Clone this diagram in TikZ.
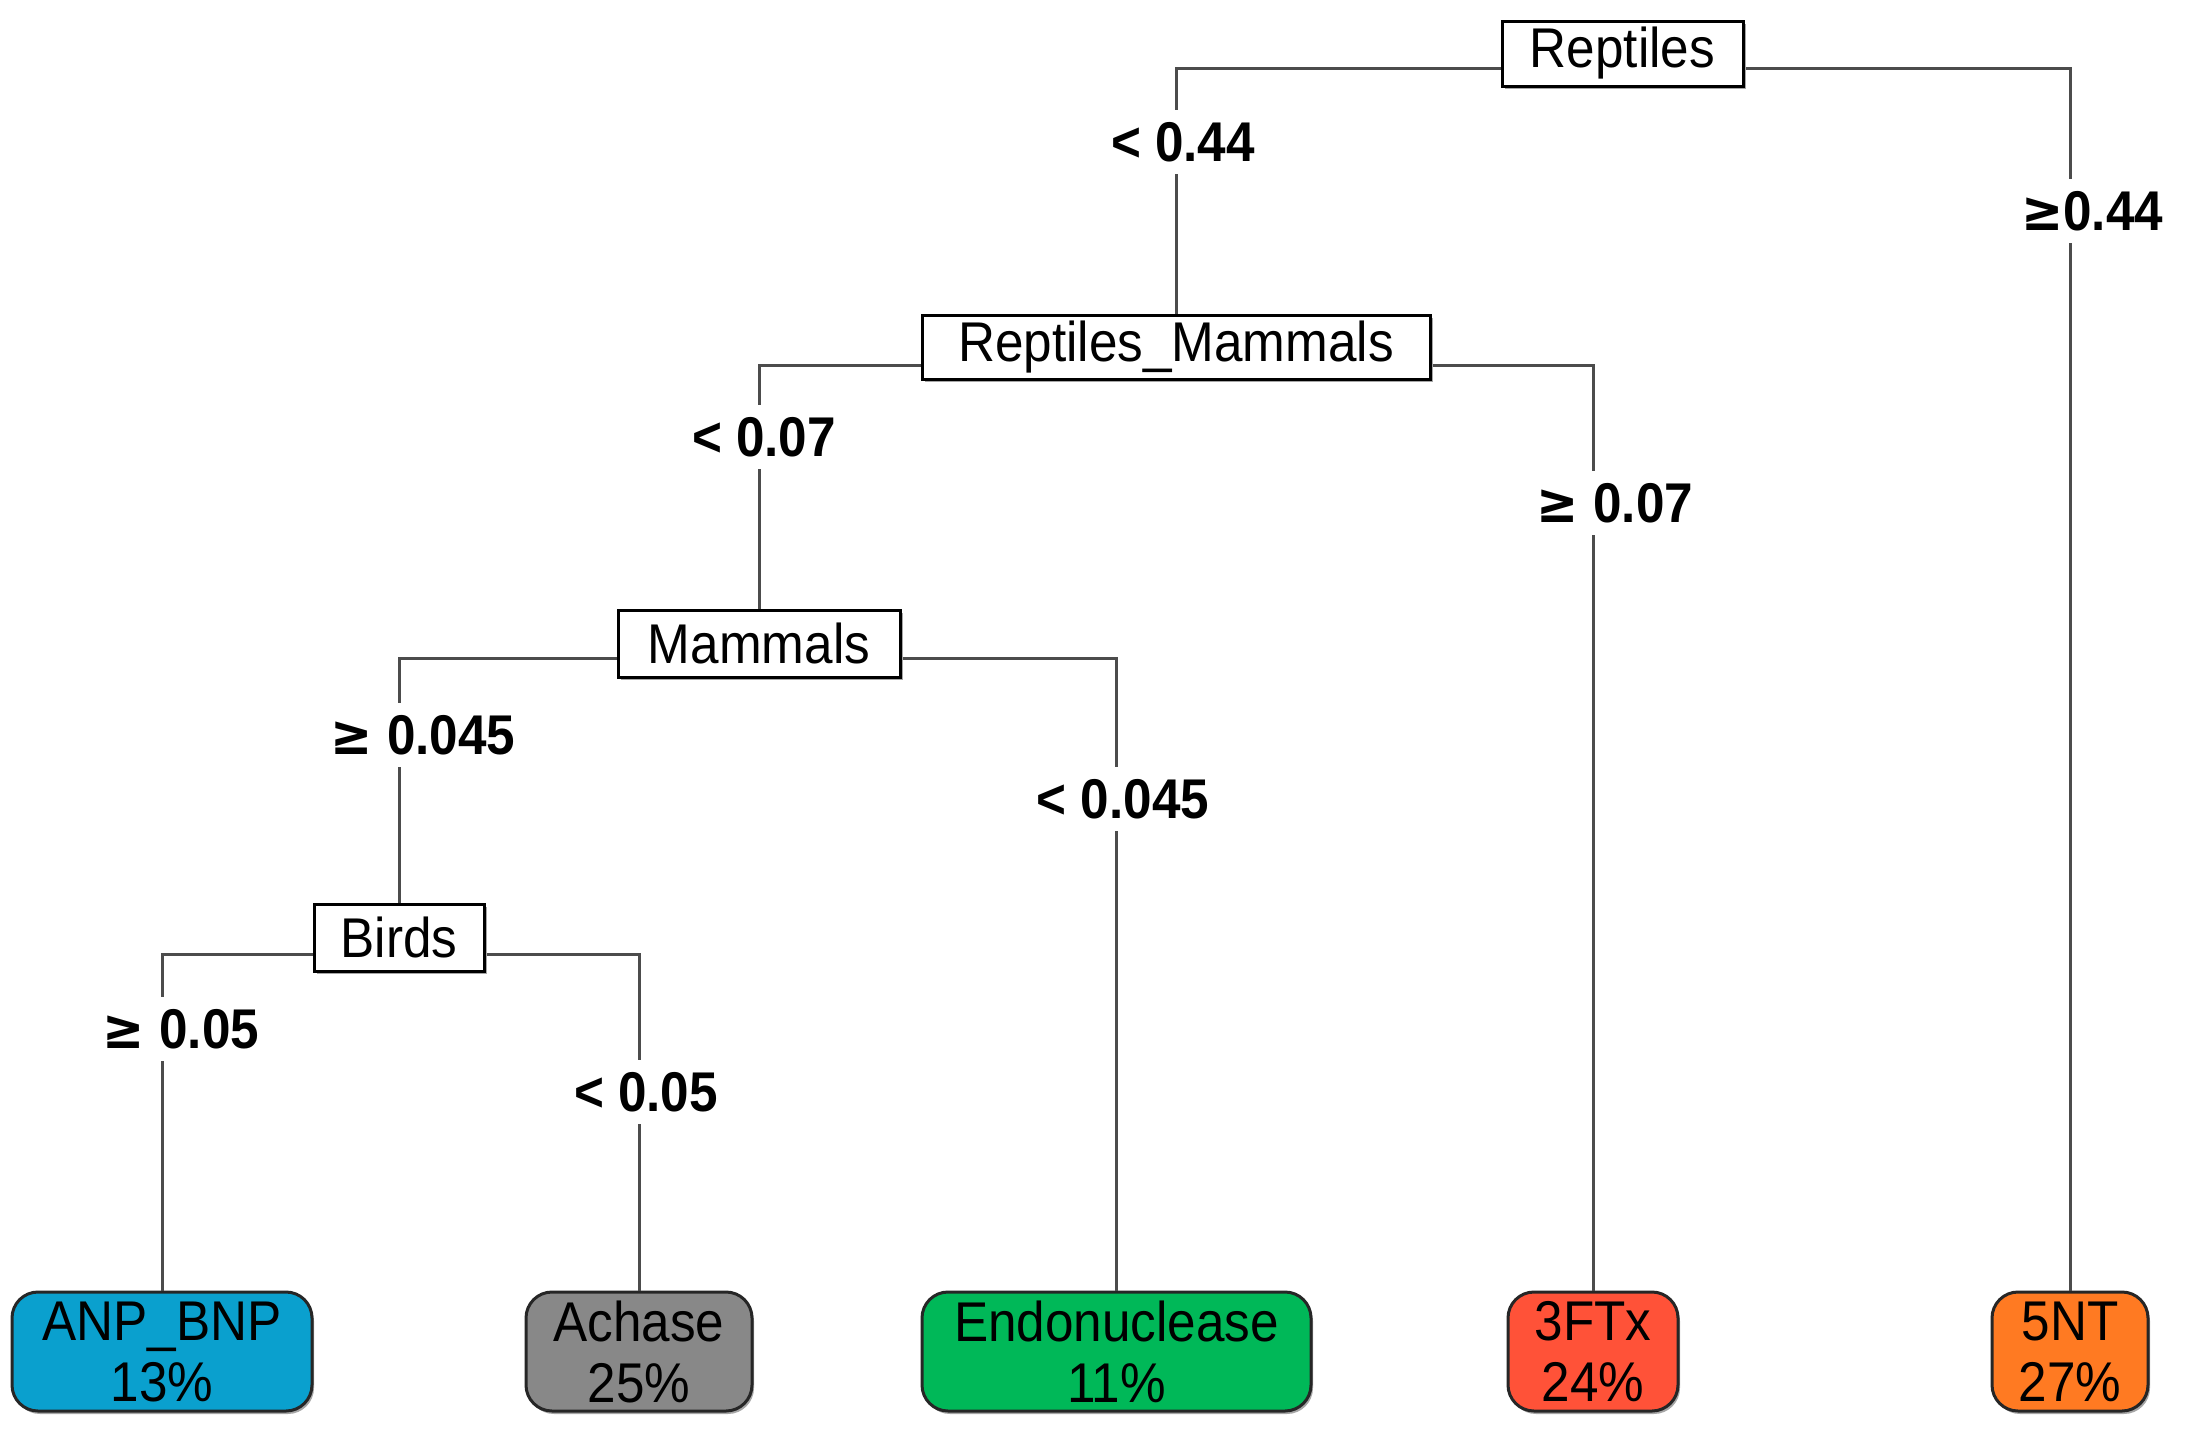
\documentclass[tikz,border=0pt]{standalone}
\usepackage{fontspec}
\setmainfont{Liberation Sans}[FakeStretch=0.915]
\newfontfamily\symfont{DejaVu Sans}[FakeStretch=0.9]
\usetikzlibrary{shadows}
\definecolor{cANP}{RGB}{10,160,206}
\definecolor{cACH}{RGB}{136,136,136}
\definecolor{cEND}{RGB}{0,184,88}
\definecolor{cFTX}{RGB}{255,82,56}
\definecolor{cFNT}{RGB}{255,122,34}
\tikzset{
  splitbox/.style={draw=black, line width=3pt, fill=white, rectangle, inner sep=0pt,
    font=\fontsize{56}{62}\selectfont,
    general shadow={fill=black!35, shadow xshift=3pt, shadow yshift=-3pt}},
  leafbox/.style={draw=black!85, line width=3pt, rectangle, rounded corners=26pt, inner sep=0pt,
    align=center, font=\fontsize{56}{61}\selectfont,
    general shadow={fill=black!35, shadow xshift=2pt, shadow yshift=-3pt}},
  lbl/.style={fill=white, inner xsep=4pt, inner ysep=12pt, font=\bfseries\fontsize{56}{62}\selectfont},
  conn/.style={draw=black!70, line width=3pt}
}
\newcommand{\gesym}{{\symfont\bfseries ≥}}
\begin{document}
\begin{tikzpicture}[x=1pt,y=-1pt]
\useasboundingbox (0,0) rectangle (2187,1448);
% split nodes
\node[splitbox, minimum width=241pt, minimum height=65pt] (rep) at (1622.5,53.5) {Reptiles};
\node[splitbox, minimum width=508pt, minimum height=64pt] (rm) at (1176,347) {Reptiles\_Mammals};
\node[splitbox, minimum width=282pt, minimum height=67pt] (mam) at (759,643.5) {Mammals};
\node[splitbox, minimum width=170pt, minimum height=67pt] (bir) at (399,937.5) {Birds};
% leaves
\node[leafbox, fill=cANP, minimum width=300pt, minimum height=119pt] (anp) at (162,1351.5) {ANP\_BNP\\13\%};
\node[leafbox, fill=cACH, minimum width=226pt, minimum height=119pt] (ach) at (639,1351.5) {Achase\\25\%};
\node[leafbox, fill=cEND, minimum width=389pt, minimum height=119pt] (end) at (1116.5,1351.5) {Endonuclease\\11\%};
\node[leafbox, fill=cFTX, minimum width=170pt, minimum height=119pt] (ftx) at (1593,1351.5) {3FTx\\24\%};
\node[leafbox, fill=cFNT, minimum width=156pt, minimum height=119pt] (fnt) at (2070,1351.5) {5NT\\27\%};
% attachment points
\coordinate (repL) at (1502,68);
\coordinate (repR) at (1743,68);
\coordinate (rmL) at (922,365);
\coordinate (rmR) at (1430,365);
\coordinate (mamL) at (618,658);
\coordinate (mamR) at (900,658);
\coordinate (birL) at (314,954);
\coordinate (birR) at (484,954);
% connectors
\draw[conn] (repL) -| (rm.north);
\draw[conn] (repR) -| (fnt.north);
\draw[conn] (rmL) -| (mam.north);
\draw[conn] (rmR) -| (ftx.north);
\draw[conn] (mamL) -| (bir.north);
\draw[conn] (mamR) -| (end.north);
\draw[conn] (birL) -| (anp.north);
\draw[conn] (birR) -| (ach.north);
% redraw boxes on top of connectors
\node[splitbox, minimum width=241pt, minimum height=65pt] at (rep) {Reptiles};
\node[splitbox, minimum width=508pt, minimum height=64pt] at (rm) {Reptiles\_Mammals};
\node[splitbox, minimum width=282pt, minimum height=67pt] at (mam) {Mammals};
\node[splitbox, minimum width=170pt, minimum height=67pt] at (bir) {Birds};
% labels
\node[lbl] (l1) at (1183,142) {< 0.44};
\node[lbl] (l2) at (2092,211) {\gesym 0.44};
\node[lbl] (l3) at (764,437) {< 0.07};
\node[lbl] (l4) at (1615,503) {\gesym\ 0.07};
\node[lbl] (l5) at (423,735) {\gesym\ 0.045};
\node[lbl] (l6) at (1123,799) {< 0.045};
\node[lbl] (l7) at (181,1029) {\gesym\ 0.05};
\node[lbl] (l8) at (646,1092) {< 0.05};
\end{tikzpicture}
\end{document}
